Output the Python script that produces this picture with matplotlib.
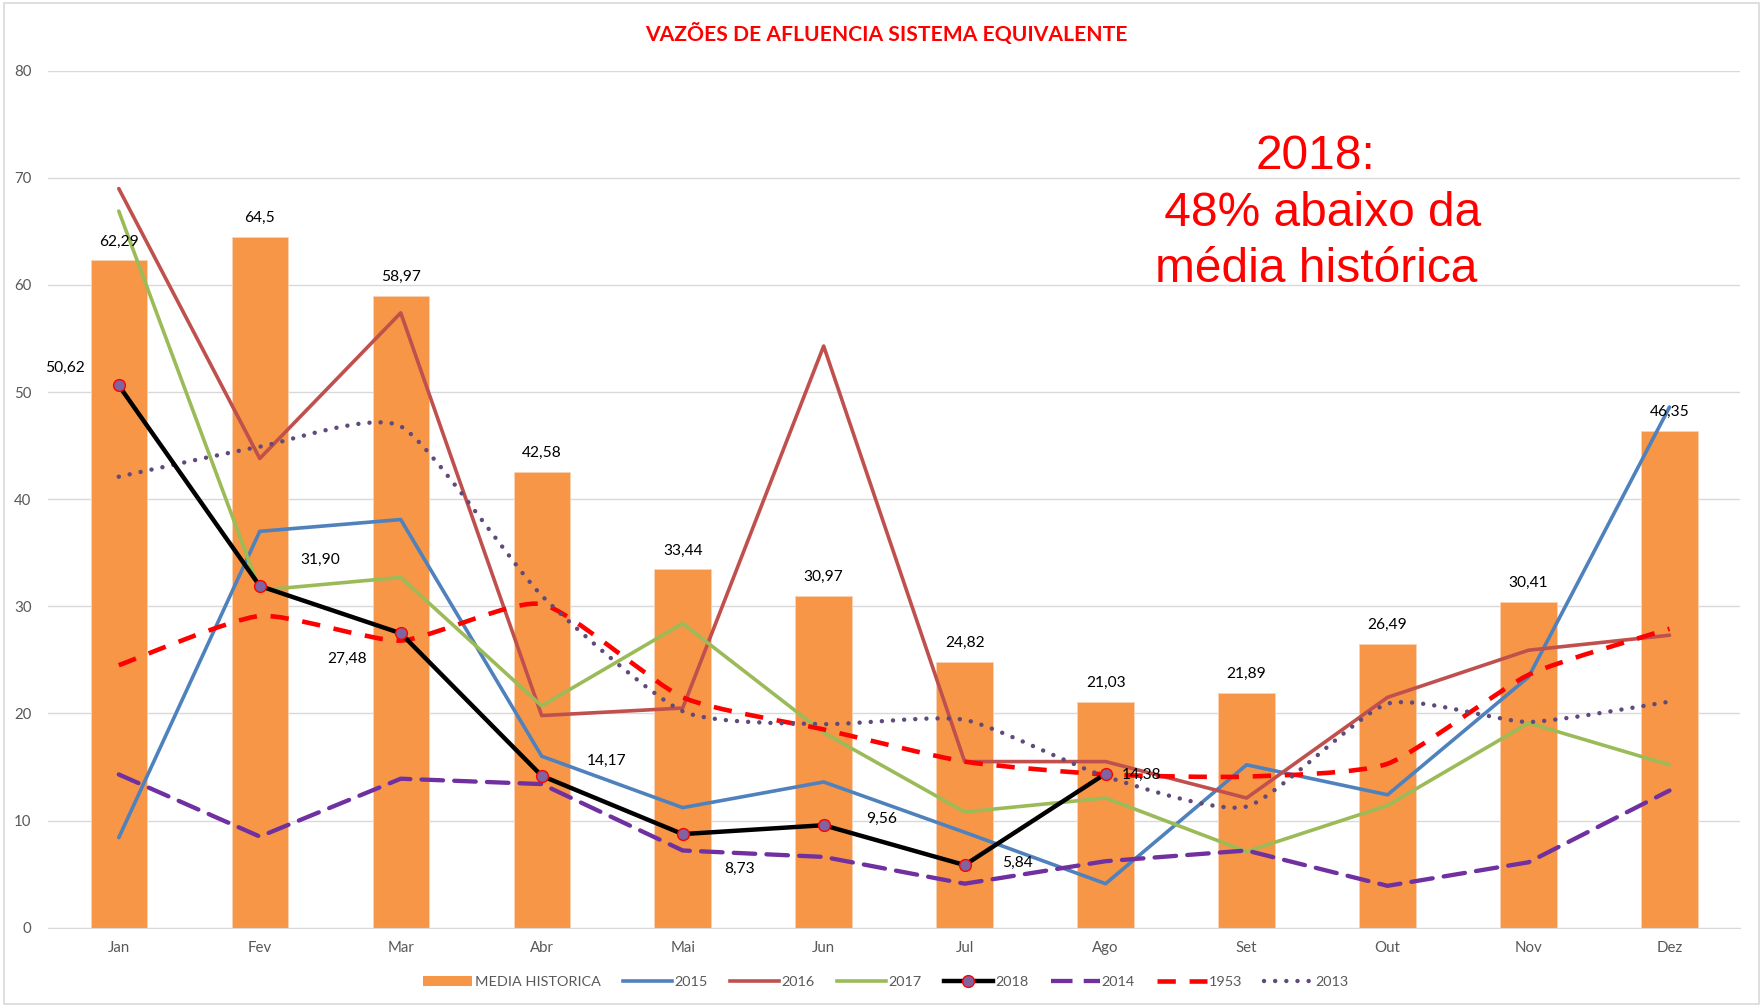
import matplotlib
matplotlib.use("Agg")
import matplotlib.pyplot as plt
from matplotlib.path import Path
from matplotlib.patches import PathPatch, Patch, Rectangle
from matplotlib.lines import Line2D
import numpy as np

# ---------------- data ----------------
months = ["Jan", "Fev", "Mar", "Abr", "Mai", "Jun", "Jul", "Ago", "Set", "Out", "Nov", "Dez"]
media_historica = [62.29, 64.5, 58.97, 42.58, 33.44, 30.97, 24.82, 21.03, 21.89, 26.49, 30.41, 46.35]
s2015 = [8.4, 37.0, 38.1, 16.0, 11.2, 13.6, 8.9, 4.1, 15.2, 12.4, 23.4, 48.6]
s2016 = [69.0, 43.8, 57.4, 19.8, 20.5, 54.3, 15.5, 15.5, 12.1, 21.5, 25.9, 27.3]
s2017 = [66.9, 31.5, 32.7, 20.7, 28.4, 18.2, 10.8, 12.1, 7.1, 11.4, 19.1, 15.2]
s2018 = [50.62, 31.90, 27.48, 14.17, 8.73, 9.56, 5.84, 14.38]
s2014 = [14.3, 8.5, 13.9, 13.4, 7.2, 6.6, 4.1, 6.2, 7.2, 3.9, 6.1, 12.8]
s1953 = [24.5, 29.1, 26.8, 30.2, 21.5, 18.5, 15.5, 14.3, 14.1, 15.3, 23.6, 27.9]
s2013 = [42.1, 44.9, 46.8, 31.0, 20.2, 19.0, 19.4, 14.1, 11.3, 20.9, 19.2, 21.1]

title = "VAZÕES DE AFLUENCIA SISTEMA EQUIVALENTE"
note = "2018:\n 48% abaixo da\nmédia histórica"

# label offsets for 2018 values (pixels) - styling only
lbl2018_offsets = [(-54, 18), (60, 26), (-54, -26), (65, 15), (57, -35), (58, 6), (53, 2), (36, -1)]

# ---------------- style ----------------
W, H = 1763, 1006
DPI = 100
plt.rcParams['font.family'] = ['Lato', 'DejaVu Sans']
GRAY = '#595959'
GRID = '#D9D9D9'
ORANGE = '#F79646'
LW = 2.6

fig = plt.figure(figsize=(W / DPI, H / DPI), dpi=DPI)
fig.patches.append(Rectangle((4 / W, 2 / H), 1 - 8 / W, 1 - 5 / H, transform=fig.transFigure,
                             fill=False, edgecolor=GRID, linewidth=1.2))

left, right = 48.3 / W, 1740 / W
bottom, top = (H - 927.6) / H, (H - 70.8) / H
ax = fig.add_axes([left, bottom, right - left, top - bottom])

x = np.arange(len(months))
ax.bar(x, media_historica, width=0.4, color=ORANGE, edgecolor='#FAD3B3', linewidth=0.6, zorder=2)


def smooth_path(xs, ys, k):
    pts = np.column_stack([xs, ys]).astype(float)
    n = len(pts)
    verts = [pts[0]]
    codes = [Path.MOVETO]
    for i in range(n - 1):
        p0 = pts[i - 1] if i > 0 else pts[i]
        p1 = pts[i]
        p2 = pts[i + 1]
        p3 = pts[i + 2] if i + 2 < n else pts[i + 1]
        c1 = p1 + (p2 - p0) * k
        c2 = p2 - (p3 - p1) * k
        verts += [c1, c2, p2]
        codes += [Path.CURVE4] * 3
    return Path(verts, codes)


# straight series
ax.plot(x, s2015, color='#4F81BD', lw=LW, zorder=4, solid_capstyle='round')
ax.plot(x, s2016, color='#C0504D', lw=LW, zorder=4, solid_capstyle='round')
ax.plot(x, s2017, color='#9BBB59', lw=LW, zorder=4, solid_capstyle='round')
ax.plot(x, s2014, color='#7030A0', lw=3.1, linestyle=(0, (5, 2.6)), dash_capstyle='round',
        dash_joinstyle='round', zorder=4)

# smoothed series
ax.add_patch(PathPatch(smooth_path(x, s1953, 0.1), fill=False, edgecolor='#FF0000', lw=3.3,
                       linestyle=(0, (4, 3)), capstyle='butt', zorder=4))
ax.add_patch(PathPatch(smooth_path(x, s2013, 0.1), fill=False, edgecolor='#604A7B', lw=3.2,
                       linestyle=(0, (0.01, 2.5)), capstyle='round', zorder=4))

x18 = np.arange(len(s2018))
ax.plot(x18, s2018, color='black', lw=3.2, zorder=5, marker='o', markersize=8.5,
        markerfacecolor='#8064A2', markeredgecolor='#FF0000', markeredgewidth=1.0)

# labels
for xi, v in zip(x, media_historica):
    ax.annotate(str(v).replace('.', ','), (xi, v), xytext=(0, 19), textcoords='offset pixels',
                ha='center', va='center', fontsize=11.2, color='black', zorder=6)
for xi, v, off in zip(x18, s2018, lbl2018_offsets):
    ax.annotate(f"{v:.2f}".replace('.', ','), (xi, v), xytext=off, textcoords='offset pixels',
                ha='center', va='center', fontsize=11.2, color='black', zorder=6)

ax.set_xlim(-0.5, len(months) - 0.5)
ax.set_ylim(0, 80)
ax.set_yticks(range(0, 81, 10))
ax.set_xticks(x)
ax.set_xticklabels(months)
ax.tick_params(axis='both', length=0, labelsize=10.8, labelcolor=GRAY)
ax.tick_params(axis='y', pad=12)
ax.tick_params(axis='x', pad=10)
ax.grid(axis='y', color=GRID, lw=1.0, zorder=0)
ax.set_axisbelow(True)
for s in ['left', 'right', 'top']:
    ax.spines[s].set_visible(False)
ax.spines['bottom'].set_color(GRID)

fig.text(0.5026, 1 - 34 / H, title, ha='center', va='center', fontsize=15.2,
         fontweight='bold', color='#FF0000')
fig.text(1316 / W, 1 - 213 / H, note, ha='center', va='center', multialignment='center',
         fontsize=34.5, color='#FF0000', family=['Liberation Sans', 'DejaVu Sans'], linespacing=1.34)

handles = [
    Patch(facecolor=ORANGE, edgecolor='none'),
    Line2D([], [], color='#4F81BD', lw=LW),
    Line2D([], [], color='#C0504D', lw=LW),
    Line2D([], [], color='#9BBB59', lw=LW),
    Line2D([], [], color='black', lw=3.2, marker='o', markersize=8.5,
           markerfacecolor='#8064A2', markeredgecolor='#FF0000'),
    Line2D([], [], color='#7030A0', lw=3.1, linestyle=(0, (5, 2.6))),
    Line2D([], [], color='#FF0000', lw=3.3, linestyle=(0, (4, 3))),
    Line2D([], [], color='#604A7B', lw=3.2, linestyle=(0, (0.01, 2.5)), dash_capstyle='round'),
]
labels = ["MEDIA HISTORICA", "2015", "2016", "2017", "2018", "2014", "1953", "2013"]
leg = fig.legend(handles, labels, loc='center', bbox_to_anchor=(0.5026, 1 - 982 / H), ncol=8,
                 frameon=False, fontsize=10.4, handlelength=3.4, handletextpad=0.15,
                 columnspacing=1.55, labelcolor=GRAY)

fig.savefig("out.png", dpi=DPI)
